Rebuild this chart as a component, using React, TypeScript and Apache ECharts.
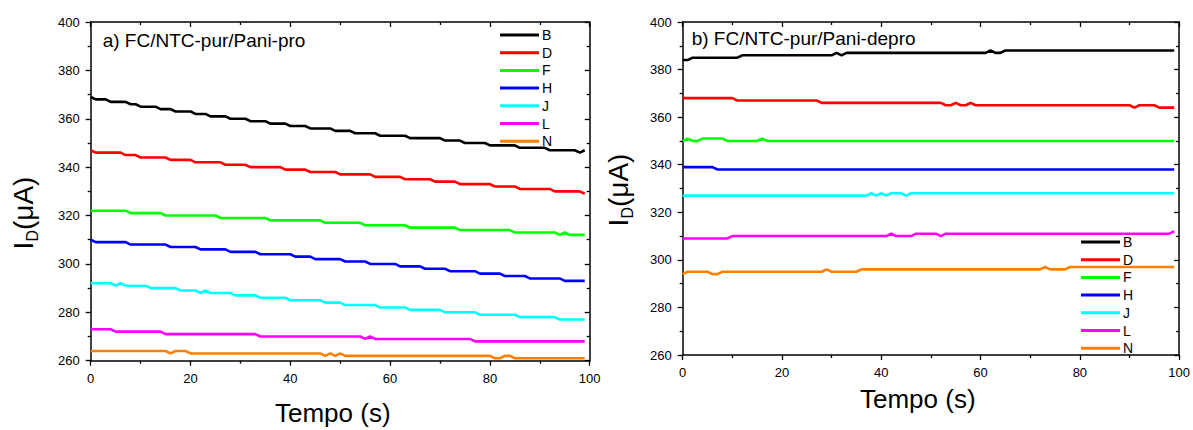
import React, { useEffect, useRef } from "react";
import * as echarts from "echarts";

const seriesNames = ["B", "D", "F", "H", "J", "L", "N"];
const seriesColors = ["#000000", "#ff0000", "#00ff00", "#0000ff", "#00ffff", "#ff00ff", "#ff8000"];
const xTicks = { min: 0, max: 100, interval: 20 };
const yTicks = { min: 260, max: 400, interval: 20 };

const panelTitles = ["a) FC/NTC-pur/Pani-pro", "b) FC/NTC-pur/Pani-depro"];
const xTitle = "Tempo (s)";

// Panel a) FC/NTC-pur/Pani-pro : [tempo (s), I_D (µA)]
const proB = [[0,369],[1,368],[3,368],[4,367],[7,367],[8,366],[9,366],[10,365],[13,365],[14,364],[16,364],[17,363],[20,363],[21,362],[23,362],[24,361],[27,361],[28,360],[31,360],[32,359],[35,359],[36,358],[39,358],[40,357],[43,357],[44,356],[48,356],[49,355],[52,355],[53,354],[57,354],[58,353],[63,353],[64,352],[70,352],[71,351],[74,351],[75,350],[79,350],[80,349],[85,349],[86,348],[91,348],[92,347],[97,347],[98,346],[99,347]];
const proD = [[0,347],[1,346],[6,346],[7,345],[9,345],[10,344],[15,344],[16,343],[20,343],[21,342],[26,342],[27,341],[31,341],[32,340],[38,340],[39,339],[43,339],[44,338],[49,338],[50,337],[56,337],[57,336],[62,336],[63,335],[68,335],[69,334],[73,334],[74,333],[80,333],[81,332],[85,332],[86,331],[92,331],[93,330],[98,330],[99,329]];
const proF = [[0,322],[7,322],[8,321],[14,321],[15,320],[25,320],[26,319],[35,319],[36,318],[46,318],[47,317],[54,317],[55,316],[63,316],[64,315],[73,315],[74,314],[84,314],[85,313],[93,313],[94,312],[95,313],[96,312],[99,312]];
const proH = [[0,310],[1,309],[7,309],[8,308],[15,308],[16,307],[21,307],[22,306],[27,306],[28,305],[33,305],[34,304],[40,304],[41,303],[44,303],[45,302],[50,302],[51,301],[55,301],[56,300],[61,300],[62,299],[66,299],[67,298],[71,298],[72,297],[77,297],[78,296],[82,296],[83,295],[87,295],[88,294],[94,294],[95,293],[99,293]];
const proJ = [[0,292],[4,292],[5,291],[6,292],[7,291],[11,291],[12,290],[17,290],[18,289],[21,289],[22,288],[23,289],[24,288],[28,288],[29,287],[33,287],[34,286],[39,286],[40,285],[46,285],[47,284],[50,284],[51,283],[57,283],[58,282],[63,282],[64,281],[70,281],[71,280],[77,280],[78,279],[85,279],[86,278],[93,278],[94,277],[99,277]];
const proL = [[0,273],[4,273],[5,272],[14,272],[15,271],[33,271],[34,270],[54,270],[55,269],[56,270],[57,269],[76,269],[77,268],[99,268]];
const proN = [[0,264],[15,264],[16,263],[17,264],[19,264],[20,263],[46,263],[47,262],[48,263],[49,262],[50,263],[51,262],[80,262],[81,261],[82,261],[83,262],[84,262],[85,261],[99,261]];

// Panel b) FC/NTC-pur/Pani-depro
const deproB = [[0,384],[1,384],[2,385],[11,385],[12,386],[30,386],[31,387],[32,386],[33,387],[61,387],[62,388],[63,387],[64,387],[65,388],[99,388]];
const deproD = [[0,368],[10,368],[11,367],[27,367],[28,366],[52,366],[53,365],[54,365],[55,366],[56,365],[57,365],[58,366],[59,365],[90,365],[91,364],[92,365],[95,365],[96,364],[99,364]];
const deproF = [[0,350],[1,351],[2,350],[3,350],[4,351],[8,351],[9,350],[15,350],[16,351],[17,350],[99,350]];
const deproH = [[0,339],[6,339],[7,338],[99,338]];
const deproJ = [[0,327],[37,327],[38,328],[39,327],[40,328],[41,327],[42,328],[44,328],[45,327],[46,328],[99,328]];
const deproL = [[0,309],[9,309],[10,310],[41,310],[42,311],[43,310],[46,310],[47,311],[51,311],[52,310],[53,311],[98,311],[99,312]];
const deproN = [[0,294],[1,295],[5,295],[6,294],[7,294],[8,295],[28,295],[29,296],[30,295],[35,295],[36,296],[72,296],[73,297],[74,296],[77,296],[78,297],[99,297]];

const proData = [proB, proD, proF, proH, proJ, proL, proN];
const deproData = [deproB, deproD, deproF, deproH, deproJ, deproL, deproN];

const FONT = "Liberation Sans";

function makeAxis(kind: "x" | "y", gridIndex: number, position: string, main: boolean) {
  const t = kind === "x" ? xTicks : yTicks;
  return {
    type: "value",
    gridIndex,
    position,
    min: t.min,
    max: t.max,
    interval: t.interval,
    axisLine: { show: true, onZero: false, lineStyle: { color: "#000", width: 1.5 } },
    axisTick: { show: true, inside: !main, length: 5, lineStyle: { color: "#000", width: 1.3 } },
    minorTick: { show: true, splitNumber: 2, length: 3, lineStyle: { color: "#000", width: 1.3 } },
    axisLabel: { show: main, color: "#000", fontFamily: FONT, fontSize: 13, margin: 11 },
    splitLine: { show: false },
    minorSplitLine: { show: false },
  };
}

export default function App() {
  const ref = useRef<HTMLDivElement>(null);
  useEffect(() => {
    if (!ref.current) return;
    const chart = echarts.init(ref.current, undefined, { renderer: "svg" });
    const series: any[] = [];
    [proData, deproData].forEach((panel, p) => {
      panel.forEach((d, i) => {
        series.push({
          name: seriesNames[i],
          type: "line",
          xAxisIndex: p * 2,
          yAxisIndex: p * 2,
          data: d,
          showSymbol: false,
          symbol: "none",
          lineStyle: { color: seriesColors[i], width: 2.6 },
          itemStyle: { color: seriesColors[i] },
          z: 3,
        });
      });
    });
    const yTitleRich = {
      m: { fontSize: 28, fontFamily: FONT, color: "#000", verticalAlign: "bottom", padding: [0, 0, 3, 0] },
      s: { fontSize: 16, fontFamily: FONT, color: "#000", verticalAlign: "bottom" },
    };
    const legendBase = {
      orient: "vertical",
      icon: "rect",
      itemWidth: 39,
      itemHeight: 3,
      itemGap: 3.7,
      textStyle: { color: "#000", fontFamily: FONT, fontSize: 14, lineHeight: 14, padding: [0, 0, 0, -2] },
      data: seriesNames,
      selectedMode: false,
      padding: 0,
    };
    chart.setOption({
      animation: false,
      backgroundColor: "#fff",
      grid: [
        { left: 90.7, top: 22, width: 499, height: 338.7 },
        { left: 682.7, top: 22, width: 498, height: 333 },
      ],
      xAxis: [
        makeAxis("x", 0, "bottom", true),
        makeAxis("x", 0, "top", false),
        makeAxis("x", 1, "bottom", true),
        makeAxis("x", 1, "top", false),
      ],
      yAxis: [
        makeAxis("y", 0, "left", true),
        makeAxis("y", 0, "right", false),
        makeAxis("y", 1, "left", true),
        makeAxis("y", 1, "right", false),
      ],
      legend: [
        { ...legendBase, left: 500, top: 28 },
        { ...legendBase, left: 1081, top: 235 },
      ],
      graphic: [
        { type: "text", left: 102.7, top: 31, style: { text: panelTitles[0], fontFamily: FONT, fontSize: 19, fill: "#000" } },
        { type: "text", left: 691.7, top: 29, style: { text: panelTitles[1], fontFamily: FONT, fontSize: 19, fill: "#000" } },
        { type: "text", x: 275, y: 413, style: { text: xTitle, fontFamily: FONT, fontSize: 26, fill: "#000", align: "left", verticalAlign: "middle" } },
        { type: "text", x: 860, y: 399, style: { text: xTitle, fontFamily: FONT, fontSize: 26, fill: "#000", align: "left", verticalAlign: "middle" } },
        { type: "text", x: 25, y: 213, rotation: Math.PI / 2, style: { text: "{m|I}{s|D}{m|(μA)}", rich: yTitleRich, align: "center", verticalAlign: "middle" } },
        { type: "text", x: 620, y: 190, rotation: Math.PI / 2, style: { text: "{m|I}{s|D}{m|(μA)}", rich: yTitleRich, align: "center", verticalAlign: "middle" } },
      ],
      series,
    });
    return () => chart.dispose();
  }, []);
  return <div ref={ref} style={{ position: "fixed", left: 0, top: 0, width: 1193, height: 430 }} />;
}
